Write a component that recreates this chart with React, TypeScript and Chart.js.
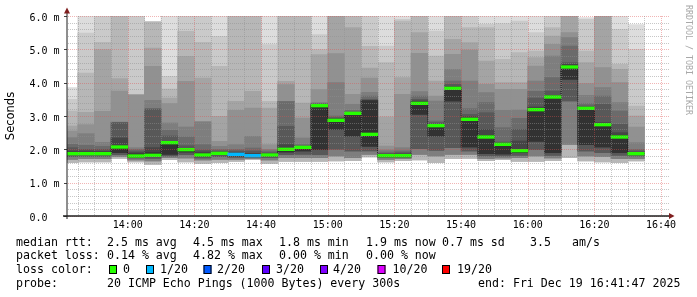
import React, { useEffect, useRef } from 'react';
import { Chart, registerables } from 'chart.js';
Chart.register(...registerables);

// ---------- data ----------
const columnTimes = ['13:40','13:45','13:50','13:55','14:00','14:05','14:10','14:15','14:20','14:25','14:30','14:35','14:40','14:45','14:50','14:55','15:00','15:05','15:10','15:15','15:20','15:25','15:30','15:35','15:40','15:45','15:50','15:55','16:00','16:05','16:10','16:15','16:20','16:25','16:30'];
const windowStart = '13:41:47';
const windowEnd = '16:41:47';

// median rtt (ms)
const median = [1.87,1.87,1.87,2.07,1.80,1.82,2.20,1.99,1.83,1.88,1.85,1.81,1.83,2.00,2.06,3.31,2.87,3.08,2.45,1.81,1.81,3.38,2.71,3.83,2.90,2.37,2.15,1.96,3.19,3.57,4.47,3.23,2.74,2.37,1.87];
// lost pings out of 20
const lossCount = [0,0,0,0,0,0,0,0,0,0,1,1,0,0,0,0,0,0,0,0,0,0,0,0,0,0,0,0,0,0,0,0,0,0,0];

// upper smoke edges (ms), outermost (max) to innermost
const hi1 = [3.85,6.4,6.5,6.5,6.5,5.84,6.5,6.5,6.5,6.3,6.5,6.5,6.5,6.5,6.5,6.5,6.5,6.5,6.5,6.3,6.3,6.5,6.4,6.5,6.5,6.4,6.4,6.0,6.3,6.5,6.5,5.95,6.5,6.3,5.74];
const hi2 = [3.5,5.49,6.2,6.3,6.2,5.83,4.19,6.2,6.2,5.39,6.3,6.3,5.14,6.3,6.3,5.44,6.4,6.3,6.2,5.1,5.9,6.3,5.55,6.3,6.2,5.75,5.77,5.85,5.5,6.3,6.4,5.9,6.3,5.6,5.0];
const hi3 = [3.15,4.29,5.21,6.1,3.65,5.82,3.81,5.54,5.21,4.49,6.2,6.2,3.44,6.1,6.2,4.99,6.3,6.2,5.09,4.6,5.85,6.1,4.8,6.2,5.65,5.65,4.7,4.9,4.95,5.65,6.3,4.95,6.2,4.55,3.3];
const hi4 = [2.7,3.11,4.99,4.12,3.64,5.04,3.54,4.79,4.14,2.99,3.44,3.74,3.24,4.04,3.39,4.84,6.2,5.65,4.44,2.97,4.15,5.5,4.05,5.3,5.2,4.65,4.0,4.0,4.75,5.4,6.2,4.6,6.1,4.4,3.0];
const hi5 = [2.55,2.74,3.14,3.75,3.63,4.49,3.37,4.04,2.84,2.24,3.17,3.24,2.14,3.94,2.94,3.79,4.87,3.65,4.14,2.1,3.65,4.88,3.6,4.85,4.98,3.95,3.8,3.8,4.5,5.15,5.5,3.97,4.45,4.0,2.67];
const hi6 = [2.35,2.47,2.21,2.82,2.05,3.47,2.79,2.67,2.82,2.09,2.14,2.39,2.0,3.44,2.34,3.4,4.0,3.35,3.71,1.98,2.05,3.73,3.45,4.4,4.05,3.7,3.17,3.18,4.05,4.8,5.35,3.62,3.85,3.4,2.2];
const hi7 = [2.15,2.12,2.09,2.81,2.0,3.22,2.57,2.37,2.14,2.0,2.0,2.04,1.95,3.43,2.14,3.38,3.0,3.17,3.6,1.92,1.95,3.6,2.85,4.05,3.22,3.4,2.65,2.93,3.74,4.15,5.1,3.37,3.6,3.15,2.0];
const hi8 = [2.05,2.0,2.0,2.8,1.95,3.21,2.4,2.11,1.98,1.95,1.95,1.95,1.9,2.69,2.1,3.36,2.95,3.12,3.5,1.88,1.9,3.5,2.8,3.95,3.05,3.1,2.22,2.6,3.54,3.75,4.6,3.3,3.35,2.75,1.95];
const hi9 = [1.95,1.95,1.94,2.34,1.9,2.05,2.24,2.03,1.92,1.92,1.9,1.88,1.87,2.14,2.08,3.34,2.92,3.1,3.47,1.85,1.86,3.45,2.75,3.88,2.98,2.6,2.19,2.25,3.27,3.62,4.55,3.26,2.8,2.5,1.91];
const hi10 = [1.9,1.9,1.9,2.1,1.86,1.9,2.21,2.0,1.86,1.9,1.87,1.84,1.85,2.02,2.07,3.33,2.9,3.09,3.46,1.83,1.83,3.42,2.73,3.85,2.93,2.42,2.17,2.0,3.22,3.59,4.5,3.25,2.77,2.42,1.89];

// lower smoke edges (ms), innermost to outermost (min)
const loInner = [1.84,1.84,1.84,1.9,1.77,1.78,1.85,1.92,1.79,1.84,1.8,1.78,1.8,1.92,1.95,1.99,2.6,2.4,2.09,1.79,1.79,3.05,2.4,3.45,2.07,1.87,1.86,1.9,2.24,1.9,4.1,2.14,2.07,1.9,1.84];
const loMid = [1.78,1.79,1.79,1.84,1.74,1.73,1.8,1.84,1.74,1.78,1.76,1.75,1.75,1.84,1.85,1.84,2.0,1.95,1.95,1.75,1.75,2.02,1.97,2.05,1.95,1.8,1.8,1.82,1.99,1.82,3.45,1.95,1.9,1.82,1.8];
const loOuter = [1.7,1.72,1.72,1.78,1.68,1.65,1.75,1.74,1.68,1.7,1.7,1.72,1.68,1.75,1.75,1.75,1.8,1.75,1.85,1.7,1.72,1.85,1.8,1.85,1.85,1.72,1.74,1.75,1.8,1.74,2.15,1.8,1.78,1.72,1.72];
const loMin = [1.6,1.62,1.62,1.73,1.62,1.55,1.69,1.62,1.58,1.6,1.64,1.69,1.58,1.64,1.64,1.64,1.65,1.66,1.77,1.62,1.66,1.68,1.6,1.72,1.73,1.66,1.69,1.64,1.64,1.66,1.75,1.65,1.62,1.6,1.65];

// axis / legend texts
const xTickLabels = ['14:00','14:20','14:40','15:00','15:20','15:40','16:00','16:20','16:40'];
const yTickLabels = ['0.0','1.0 m','2.0 m','3.0 m','4.0 m','5.0 m','6.0 m'];
const yTitle = 'Seconds';
const watermark = 'RRDTOOL / TOBI OETIKER';
const rttLabel = 'median rtt:';
const rttStats = ['2.5 ms avg','4.5 ms max','1.8 ms min','1.9 ms now','0.7 ms sd','3.5','am/s'];
const lossLabel = 'packet loss:';
const lossStats = ['0.14 % avg','4.82 % max','0.00 % min','0.00 % now'];
const lossColorLabel = 'loss color:';
const lossLegend = ['0','1/20','2/20','3/20','4/20','10/20','19/20'];
const lossLegendCount = [0,1,2,3,4,10,19];
const lossLegendColors = ['#26ff00','#00b8ff','#0059ff','#5e00ff','#7e00ff','#dd00ff','#ff0000'];
const probeLabel = 'probe:';
const probeText = '20 ICMP Echo Pings (1000 Bytes) every 300s';
const endText = 'end: Fri Dec 19 16:41:47 2025';

// ---------- helpers / styles ----------
const toMin = (t: string) => {
  const p = t.split(':').map(Number);
  return (p[0] - 13) * 60 + p[1] + (p[2] || 0) / 60;
};
const colX = columnTimes.map((t) => toMin(t) + 2.5);
const xMin = toMin(windowStart);
const xMax = toMin(windowEnd);
const xTickValues = xTickLabels.map(toMin);

const smokeGrays = [221, 202, 183, 164, 145, 126, 107, 88, 69, 50];
const hiLayers = [hi1, hi2, hi3, hi4, hi5, hi6, hi7, hi8, hi9, hi10];
const loLayers = [loMin, loMin, loMin, loOuter, loOuter, loOuter, loMid, loMid, loInner, loInner];

const lossColorFor = (n: number) => {
  let c = lossLegendColors[0];
  lossLegendCount.forEach((v, i) => { if (n >= v) c = lossLegendColors[i]; });
  return c;
};

const MINOR = 'rgba(143,143,143,0.5)';
const MAJOR = 'rgba(222,79,79,0.42)';
const MONO = '"DejaVu Sans Mono", monospace';

const xGrid: number[] = [];
for (let m = 45; m <= 220; m += 5) xGrid.push(m);
const yGrid: number[] = [];
for (let i = 0; i <= 30; i++) yGrid.push(i / 5);

// dotted grid drawn on top of the smoke, like rrdtool
const gridPlugin = {
  id: 'rrdGrid',
  afterDatasetsDraw(chart: any) {
    const { ctx, chartArea: a, scales } = chart;
    const xs = scales.x;
    const ys = scales.y;
    ctx.save();
    const top = Math.round(a.top);
    const bottom = Math.round(a.bottom);
    const left = Math.round(a.left);
    const right = Math.round(a.right);
    yGrid.forEach((v) => {
      const major = Math.abs(v - Math.round(v)) < 1e-6;
      ctx.fillStyle = major ? MAJOR : MINOR;
      const py = Math.round(ys.getPixelForValue(v));
      for (let x = left + 1; x <= right + 2; x += 2) ctx.fillRect(x, py, 1, 1);
    });
    xGrid.forEach((v) => {
      const major = (v - 60) % 20 === 0;
      ctx.fillStyle = major ? MAJOR : MINOR;
      const px = Math.round(xs.getPixelForValue(v));
      for (let y = top; y < bottom; y += 2) ctx.fillRect(px, y, 1, 1);
    });
    ctx.restore();
  },
};

const decor = {
  id: 'rrdDecor',
  afterDraw(chart: any) {
    const { ctx, chartArea: a, scales } = chart;
    const xs = scales.x;
    const ys = scales.y;
    ctx.save();
    // y major tick stubs
    ctx.strokeStyle = '#444';
    ctx.lineWidth = 1;
    yTickLabels.forEach((_, i) => {
      const py = Math.round(ys.getPixelForValue(i)) + 0.5;
      ctx.beginPath();
      ctx.moveTo(a.left - 3, py);
      ctx.lineTo(a.left, py);
      ctx.stroke();
    });
    // axes
    ctx.strokeStyle = '#1f1f1f';
    ctx.beginPath();
    ctx.moveTo(a.left, a.bottom + 3);
    ctx.lineTo(a.left, 12);
    ctx.stroke();
    ctx.lineWidth = 1.3;
    ctx.beginPath();
    ctx.moveTo(a.left - 4, a.bottom);
    ctx.lineTo(a.right + 3, a.bottom);
    ctx.stroke();
    // arrows
    ctx.fillStyle = '#801f1f';
    ctx.beginPath();
    ctx.moveTo(a.left - 3, 13.5);
    ctx.lineTo(a.left + 3, 13.5);
    ctx.lineTo(a.left, 7.5);
    ctx.closePath();
    ctx.fill();
    ctx.beginPath();
    ctx.moveTo(a.right + 2, a.bottom - 3);
    ctx.lineTo(a.right + 2, a.bottom + 3);
    ctx.lineTo(a.right + 7.5, a.bottom);
    ctx.closePath();
    ctx.fill();

    // tick labels
    ctx.fillStyle = '#000';
    ctx.font = `10px ${MONO}`;
    ctx.textBaseline = 'alphabetic';
    ctx.textAlign = 'left';
    yTickLabels.forEach((t, i) => {
      ctx.fillText(t, 29.5, ys.getPixelForValue(i) + 4.5);
    });
    ctx.textAlign = 'center';
    xTickLabels.forEach((t, i) => {
      ctx.fillText(t, xs.getPixelForValue(xTickValues[i]), a.bottom + 12.3);
    });

    // y title
    ctx.save();
    ctx.translate(11, (a.top + a.bottom) / 2);
    ctx.rotate(-Math.PI / 2);
    ctx.font = '11.5px "DejaVu Sans", sans-serif';
    ctx.textAlign = 'center';
    ctx.textBaseline = 'middle';
    ctx.fillText(yTitle, 0, 0);
    ctx.restore();

    // watermark
    ctx.save();
    ctx.translate(688, 5);
    ctx.rotate(Math.PI / 2);
    ctx.font = `8.3px ${MONO}`;
    ctx.fillStyle = '#a8a8a8';
    ctx.textAlign = 'left';
    ctx.textBaseline = 'middle';
    ctx.fillText(watermark, 0, 0);
    ctx.restore();

    // legend
    ctx.font = `11.6px ${MONO}`;
    ctx.textAlign = 'left';
    ctx.textBaseline = 'alphabetic';
    ctx.fillStyle = '#000';
    const rows = [245.5, 259.2, 273, 286.7];
    const statX = [107, 193, 279, 366, 442, 530, 572];
    ctx.fillText(rttLabel, 16, rows[0]);
    rttStats.forEach((t, i) => ctx.fillText(t, statX[i], rows[0]));
    ctx.fillText(lossLabel, 16, rows[1]);
    lossStats.forEach((t, i) => ctx.fillText(t, statX[i], rows[1]));
    ctx.fillText(lossColorLabel, 16, rows[2]);
    const boxX = [109, 146, 203.5, 262, 320, 377.5, 442];
    const txtX = [123, 160, 217, 276, 333, 392.5, 457];
    lossLegend.forEach((t, i) => {
      ctx.fillStyle = lossLegendColors[i];
      ctx.fillRect(boxX[i], 265, 8, 9);
      ctx.strokeStyle = '#000';
      ctx.lineWidth = 1;
      ctx.strokeRect(boxX[i] + 0.5, 265.5, 7, 8);
      ctx.fillStyle = '#000';
      ctx.fillText(t, txtX[i], rows[2]);
    });
    ctx.fillText(probeLabel, 16, rows[3]);
    ctx.fillText(probeText, 107, rows[3]);
    ctx.fillText(endText, 478, rows[3]);
    ctx.restore();
  },
};

export default function App() {
  const ref = useRef<HTMLCanvasElement>(null);
  useEffect(() => {
    const smoke = hiLayers.map((hi, i) => ({
      type: 'bar',
      data: hi.map((h, c) => ({ x: colX[c], y: [loLayers[i][c], h] })),
      backgroundColor: `rgb(${smokeGrays[i]},${smokeGrays[i]},${smokeGrays[i]})`,
      borderWidth: 0,
      grouped: false,
      barPercentage: 1,
      categoryPercentage: 1,
      order: 11 - i,
      clip: 0,
    }));
    const stepLine = {
      type: 'line',
      data: median.map((m, c) => ({ x: colX[c], y: m })),
      borderColor: '#1a1a1a',
      borderWidth: 1,
      borderDash: [1, 1],
      stepped: 'middle',
      pointRadius: 0,
      fill: false,
      order: 1,
      clip: 0,
    };
    const medianBars = {
      type: 'bar',
      data: median.map((m, c) => ({ x: colX[c], y: [m - 0.04, m + 0.04] })),
      backgroundColor: lossCount.map((n) => lossColorFor(n)),
      borderWidth: 0,
      grouped: false,
      barPercentage: 1,
      categoryPercentage: 1,
      order: 0,
      clip: 0,
    };
    const chart = new Chart(ref.current as HTMLCanvasElement, {
      type: 'bar',
      data: { datasets: [medianBars, stepLine, ...smoke] as any },
      options: {
        responsive: false,
        animation: false,
        events: [],
        layout: { padding: { top: 16, right: 30, bottom: 0, left: 0 } },
        plugins: { legend: { display: false }, tooltip: { enabled: false } },
        scales: {
          x: {
            type: 'linear',
            min: xMin,
            max: xMax,
            offset: false,
            afterBuildTicks: (s: any) => { s.ticks = xGrid.map((v) => ({ value: v })); },
            afterFit: (s: any) => { s.height = 81; },
            ticks: { display: false },
            border: { display: false },
            grid: { display: false, offset: false },
          },
          y: {
            type: 'linear',
            min: 0,
            max: 6,
            afterBuildTicks: (s: any) => { s.ticks = yGrid.map((v) => ({ value: v })); },
            afterFit: (s: any) => { s.width = 67; },
            ticks: { display: false },
            border: { display: false },
            grid: { display: false },
          },
        },
      } as any,
      plugins: [gridPlugin, decor],
    } as any);
    return () => chart.destroy();
  }, []);
  return (
    <div style={{ position: 'absolute', left: 0, top: 0, width: 697, height: 297, background: '#fff' }}>
      <canvas ref={ref} width={697} height={297} style={{ display: 'block' }} />
    </div>
  );
}
